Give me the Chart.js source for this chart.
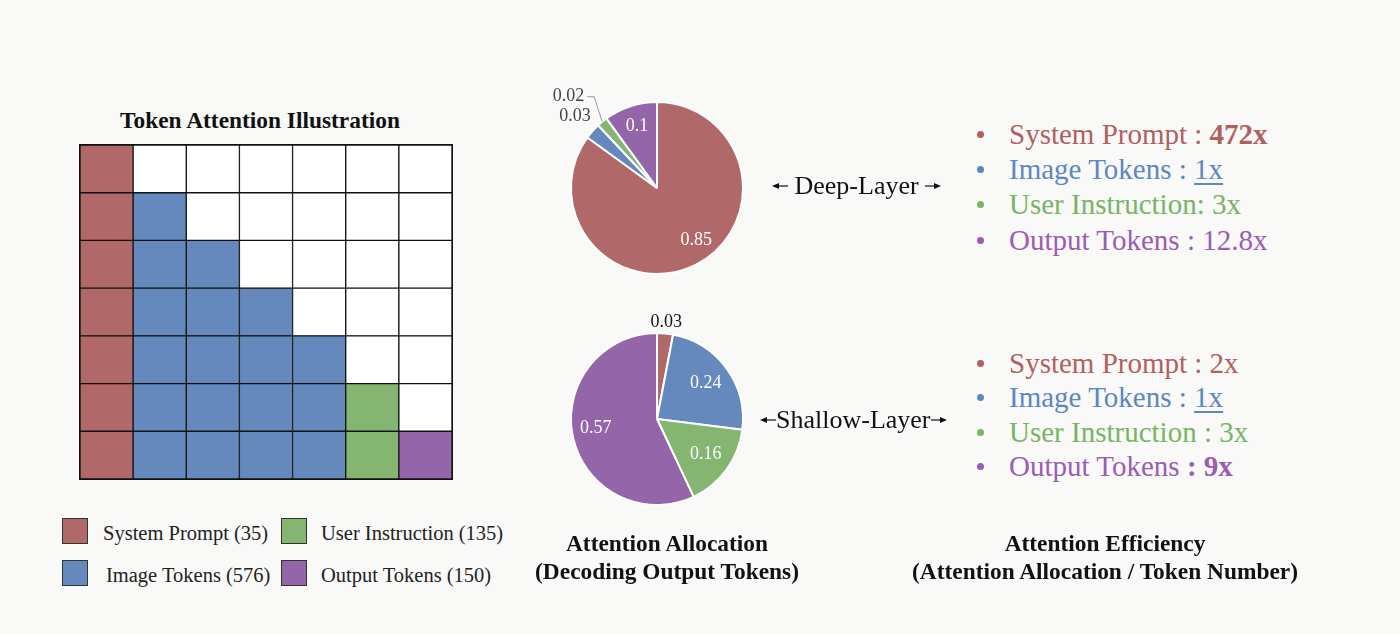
<!DOCTYPE html>
<html>
<head>
<meta charset="utf-8">
<script src="https://cdn.jsdelivr.net/npm/chart.js@4.4.1/dist/chart.umd.min.js"></script>
<style>
  body { margin: 0; background: #f9f9f8; font-family: "Liberation Serif", "Times New Roman", serif; }
  #page { position: relative; width: 1400px; height: 634px; overflow: hidden; }
  .abs { position: absolute; white-space: nowrap; }
  .ctr { transform: translateX(-50%); text-align: center; }
  .title { font-weight: bold; font-size: 23.4px; line-height: 28px; color: #111; }
  .legend-box { position: absolute; width: 24px; height: 24px; border: 1.5px solid #333; }
  .legend-txt { position: absolute; font-size: 20.5px; line-height: 24px; color: #222; }
  .layer { font-size: 26px; line-height: 30px; color: #111; }
  .eff { font-size: 29px; line-height: 35.2px; }
  .eff .dot { display: inline-block; width: 7px; height: 7px; border-radius: 50%; background: currentColor; margin-right: 25px; vertical-align: 6px; }
  .u { text-decoration: underline; text-underline-offset: 4px; text-decoration-thickness: 1.5px; }
  canvas { position: absolute; }
</style>
</head>
<body>
<div id="page">
  <div class="abs ctr title" style="left:260px; top:106px;">Token Attention Illustration</div>
  <canvas id="grid" width="380" height="342" style="left:76px; top:141px;"></canvas>
  <div id="legend"></div>

  <canvas id="deep" width="240" height="240" style="left:537px; top:68px;"></canvas>
  <canvas id="shallow" width="240" height="240" style="left:537px; top:299px;"></canvas>

  <div class="abs layer" style="left:772px; top:171px;" id="deepTag"></div>
  <div class="abs layer" style="left:760px; top:405px;" id="shallowTag"></div>

  <div class="abs eff" id="deepEff" style="left:977px; top:117px;"></div>
  <div class="abs eff" id="shallowEff" style="left:977px; top:346px; line-height:34.3px;"></div>

  <div class="abs ctr title" style="left:667px; top:529px;">Attention Allocation<br>(Decoding Output Tokens)</div>
  <div class="abs ctr title" style="left:1105px; top:529px;">Attention Efficiency<br>(Attention Allocation / Token Number)</div>
</div>
<script>
// token groups
var categories = ["System Prompt", "Image Tokens", "User Instruction", "Output Tokens"];
var tokenCounts = [35, 576, 135, 150];
var colors = ["#b06869", "#6589bc", "#84b571", "#9466a9"];
var textColors = ["#b25f60", "#5b88bf", "#78b466", "#9a5db1"];

// attention allocation of output tokens
var deepLayer = [0.85, 0.03, 0.02, 0.1];
var shallowLayer = [0.03, 0.24, 0.16, 0.57];

// attention efficiency (allocation / token number)
var deepEfficiency = ["472x", "1x", "3x", "12.8x"];
var shallowEfficiency = ["2x", "1x", "3x", "9x"];

// attention mask, top row first. S = system, I = image, U = user, O = output, . = masked
var gridRows = [
    "S......",
    "SI.....",
    "SII....",
    "SIII...",
    "SIIII..",
    "SIIIIU.",
    "SIIIIUO"
];
var gridCols = ["1", "2", "3", "4", "5", "6", "7"];
var cellColor = { S: colors[0], I: colors[1], U: colors[2], O: colors[3], ".": "#ffffff" };

// ---- grid as stacked bars, one dataset per row (bottom row first)
var gridSets = [];
for (var r = gridRows.length - 1; r >= 0; r--) {
    var row = gridRows[r];
    gridSets.push({
        data: gridCols.map(function () { return 1; }),
        backgroundColor: row.split("").map(function (c) { return cellColor[c]; }),
        borderColor: "#111",
        borderWidth: 1,
        borderSkipped: false,
        barPercentage: 1,
        categoryPercentage: 1
    });
}

var outline = {
    id: "outline",
    afterDatasetsDraw: function (chart) {
        var a = chart.chartArea, ctx = chart.ctx;
        ctx.save();
        ctx.strokeStyle = "#111";
        ctx.lineWidth = 1;
        ctx.strokeRect(a.left - 0.5, a.top - 0.5, a.right - a.left + 1, a.bottom - a.top + 1);
        ctx.restore();
    }
};

new Chart(document.getElementById("grid"), {
    type: "bar",
    data: { labels: gridCols, datasets: gridSets },
    options: {
        responsive: false,
        animation: false,
        layout: { padding: 4 },
        plugins: { legend: { display: false }, tooltip: { enabled: false } },
        scales: {
            x: { stacked: true, display: false },
            y: { stacked: true, display: false, min: 0, max: gridRows.length }
        }
    },
    plugins: [outline]
});

// ---- pie labels
var pieLabels = {
    id: "pieLabels",
    afterDatasetsDraw: function (chart, args, opts) {
        var ctx = chart.ctx;
        var vals = chart.data.datasets[0].data;
        chart.getDatasetMeta(0).data.forEach(function (arc, i) {
            var p = arc.getProps(["x", "y", "startAngle", "endAngle", "outerRadius"], true);
            var mid = (p.startAngle + p.endAngle) / 2;
            var pl = opts.place[i];
            if (pl.a) mid += pl.a * Math.PI / 180;
            ctx.save();
            ctx.font = "18px 'Liberation Serif'";
            ctx.textBaseline = "middle";
            if (pl.leader) {
                var ex = p.x + Math.cos(mid) * p.outerRadius;
                var ey = p.y + Math.sin(mid) * p.outerRadius;
                var bx = ex - 8, by = ey - 25;
                ctx.strokeStyle = "#999";
                ctx.lineWidth = 1;
                ctx.beginPath();
                ctx.moveTo(ex, ey);
                ctx.lineTo(bx, by);
                ctx.lineTo(bx - 7, by);
                ctx.stroke();
                ctx.fillStyle = pl.color;
                ctx.textAlign = "right";
                ctx.fillText(String(vals[i]), bx - 10, by);
            } else {
                ctx.fillStyle = pl.color;
                ctx.textAlign = "center";
                ctx.fillText(String(vals[i]),
                    p.x + Math.cos(mid) * p.outerRadius * pl.r,
                    p.y + Math.sin(mid) * p.outerRadius * pl.r);
            }
            ctx.restore();
        });
    }
};

function makePie(id, values, place) {
    new Chart(document.getElementById(id), {
        type: "pie",
        data: {
            labels: categories,
            datasets: [{ data: values, backgroundColor: colors, borderColor: "#ffffff", borderWidth: 2 }]
        },
        options: {
            responsive: false,
            animation: false,
            layout: { padding: 33 },
            plugins: {
                legend: { display: false },
                tooltip: { enabled: false },
                pieLabels: { place: place }
            }
        },
        plugins: [pieLabels]
    });
}

makePie("deep", deepLayer, [
    { r: 0.76, a: -10, color: "#fff" },
    { r: 1.27, color: "#444" },
    { leader: true, color: "#444" },
    { r: 0.75, color: "#fff" }
]);
makePie("shallow", shallowLayer, [
    { r: 1.13, color: "#111" },
    { r: 0.7, color: "#fff" },
    { r: 0.7, color: "#fff" },
    { r: 0.72, a: 4, color: "#fff" }
]);

// ---- legend
var legendPos = [[62, 518], [62, 560], [281, 518], [281, 560]];
var legendTxtX = [103, 106, 321, 321];
var legendHtml = "";
categories.forEach(function (c, i) {
    var pos = legendPos[i];
    legendHtml += '<div class="legend-box" style="left:' + pos[0] + "px;top:" + pos[1] + "px;background:" + colors[i] + '"></div>';
    legendHtml += '<div class="legend-txt" style="left:' + legendTxtX[i] + "px;top:" + (pos[1] + 3) + 'px">' + c + " (" + tokenCounts[i] + ")</div>";
});
document.getElementById("legend").innerHTML = legendHtml;

// ---- layer tags with arrows
function arrow(dir) {
    var line = dir < 0 ? '<line x1="5" y1="5" x2="16" y2="5" stroke="#111" stroke-width="1.2"/><polygon points="0,5 7,2 7,8" fill="#111"/>'
                       : '<line x1="0" y1="5" x2="11" y2="5" stroke="#111" stroke-width="1.2"/><polygon points="16,5 9,2 9,8" fill="#111"/>';
    return '<svg width="16" height="10" style="vertical-align:3px">' + line + "</svg>";
}
document.getElementById("deepTag").innerHTML = arrow(-1) + "&nbsp;Deep-Layer&nbsp;" + arrow(1);
document.getElementById("shallowTag").innerHTML = arrow(-1) + "Shallow-Layer" + arrow(1);

// ---- efficiency lists
function effList(id, values, seps, styles) {
    var html = "";
    categories.forEach(function (c, i) {
        var v = values[i];
        if (styles[i] === "b") v = "<b>" + v + "</b>";
        if (styles[i] === "u") v = '<span class="u">' + v + "</span>";
        var sep = seps[i];
        if (styles[i] === "bs") { sep = "<b>" + sep + "</b>"; v = "<b>" + v + "</b>"; }
        html += '<div style="color:' + textColors[i] + '"><span class="dot"></span>' + c + sep + v + "</div>";
    });
    document.getElementById(id).innerHTML = html;
}
effList("deepEff", deepEfficiency, [" : ", " : ", ": ", " : "], ["b", "u", "", ""]);
effList("shallowEff", shallowEfficiency, [" : ", " : ", " : ", " : "], ["", "u", "", "bs"]);
</script>
</body>
</html>
